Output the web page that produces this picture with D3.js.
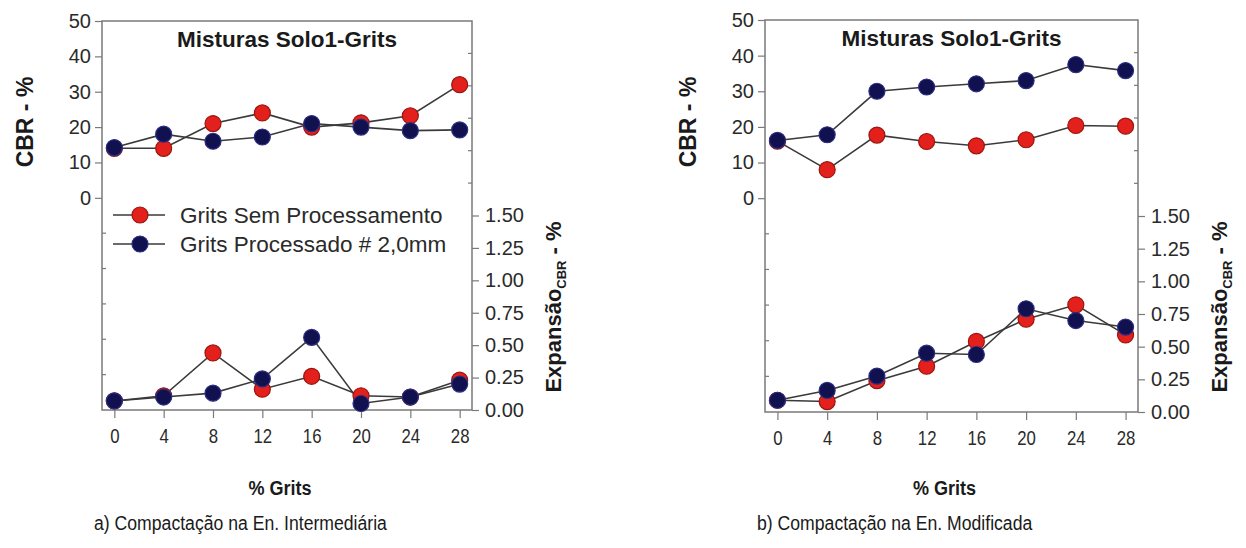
<!DOCTYPE html>
<html>
<head>
<meta charset="utf-8">
<script src="https://cdn.jsdelivr.net/npm/d3@7"></script>
<style>
  html, body { margin: 0; padding: 0; background: #fff; }
  svg { display: block; font-family: "Liberation Sans", Arial, sans-serif; }
</style>
</head>
<body>
<svg id="chart" width="1246" height="548"></svg>
<script>
// ---- data ----
const grits = [0, 4, 8, 12, 16, 20, 24, 28];
const xTickLabels = ["0", "4", "8", "12", "16", "20", "24", "28"];
const cbrTicks = [0, 10, 20, 30, 40, 50];
const expTicks = [0, 0.25, 0.5, 0.75, 1.0, 1.25, 1.5];
const seriesNames = ["Grits Sem Processamento", "Grits Processado # 2,0mm"];

// panel a) Intermediária
const cbrSemA = [14, 14, 21, 24, 20, 21.2, 23.2, 32];
const cbrProcA = [14.2, 18, 16, 17.2, 21, 20, 19, 19.2];
const expSemA = [0.07, 0.11, 0.44, 0.16, 0.26, 0.11, 0.10, 0.23];
const expProcA = [0.07, 0.10, 0.13, 0.24, 0.56, 0.05, 0.10, 0.20];
// panel b) Modificada
const cbrSemB = [16, 8, 17.7, 15.9, 14.7, 16.4, 20.4, 20.2];
const cbrProcB = [16.2, 17.8, 30, 31.2, 32.1, 33, 37.5, 35.8];
const expSemB = [0.09, 0.08, 0.24, 0.35, 0.54, 0.71, 0.82, 0.59];
const expProcB = [0.09, 0.165, 0.275, 0.45, 0.44, 0.79, 0.70, 0.65];

const captions = ["a) Compactação na En. Intermediária", "b) Compactação na En. Modificada"];
const titleText = "Misturas Solo1-Grits";

const svg = d3.select("#chart");
const RED = "#e3201b", RED_STROKE = "#9a1510";
const BLUE = "#10114e", BLUE_STROKE = "#2b2d80";
const LINE = "#3a3a3a", AXIS = "#7a7a7a", TXT = "#2a2a2a";

function panel(cfg) {
  const g = svg.append("g");
  const x = d3.scaleLinear().domain([-1, 29]).range([cfg.left, cfg.right]);
  const yC = d3.scaleLinear().domain([-60, 50]).range([cfg.bottom, cfg.top]);
  const yE = d3.scaleLinear().domain([0, 3]).range([cfg.bottom, cfg.top]);

  // frame
  g.append("rect").attr("x", cfg.left).attr("y", cfg.top)
    .attr("width", cfg.right - cfg.left).attr("height", cfg.bottom - cfg.top)
    .attr("fill", "none").attr("stroke", AXIS).attr("stroke-width", 1.5);

  // left axis (labeled part)
  const la = g.append("g").attr("transform", `translate(${cfg.left},0)`)
    .call(d3.axisLeft(yC).tickValues(cbrTicks).tickSize(7).tickPadding(4).tickFormat(d3.format("d")));
  la.select(".domain").remove();
  la.selectAll("line").attr("stroke", AXIS).attr("stroke-width", 1.2);
  la.selectAll("text").attr("font-size", 20).attr("fill", TXT).attr("font-family", "Liberation Sans, Arial, sans-serif");
  // left minor (unlabeled) inside ticks
  g.append("g").selectAll("line").data([-10, -20, -30, -40, -50]).join("line")
    .attr("x1", cfg.left).attr("x2", cfg.left + 4)
    .attr("y1", d => yC(d)).attr("y2", d => yC(d))
    .attr("stroke", AXIS).attr("stroke-width", 1.2);

  // right axis (labeled part)
  const ra = g.append("g").attr("transform", `translate(${cfg.right},0)`)
    .call(d3.axisRight(yE).tickValues(expTicks).tickSize(7).tickPadding(6).tickFormat(d3.format(".2f")));
  ra.select(".domain").remove();
  ra.selectAll("line").attr("stroke", AXIS).attr("stroke-width", 1.2);
  ra.selectAll("text").attr("font-size", 20).attr("fill", TXT).attr("font-family", "Liberation Sans, Arial, sans-serif");
  g.append("g").selectAll("line").data([1.75, 2.0, 2.25, 2.5, 2.75]).join("line")
    .attr("x1", cfg.right - 4).attr("x2", cfg.right)
    .attr("y1", d => yE(d)).attr("y2", d => yE(d))
    .attr("stroke", AXIS).attr("stroke-width", 1.2);

  // bottom axis
  const ba = g.append("g").attr("transform", `translate(0,${cfg.bottom})`)
    .call(d3.axisBottom(x).tickValues(grits).tickSize(8).tickPadding(11).tickFormat((d, i) => xTickLabels[i]));
  ba.select(".domain").remove();
  ba.selectAll("line").attr("stroke", AXIS).attr("stroke-width", 1.2);
  ba.selectAll("text").attr("font-size", 20).attr("fill", TXT)
    .attr("font-family", "Liberation Sans, Arial, sans-serif")
    .attr("transform", "scale(0.84,1)");

  // title
  g.append("text").attr("x", (cfg.left + cfg.right) / 2).attr("y", cfg.top + 26)
    .attr("text-anchor", "middle").attr("font-weight", "bold").attr("font-size", 22.5)
    .attr("fill", "#1a1a1a").text(titleText);

  // axis titles
  g.append("text").attr("transform", `translate(${cfg.left - 69},${122}) rotate(-90)`)
    .attr("text-anchor", "middle").attr("font-weight", "bold").attr("font-size", 23)
    .attr("fill", "#1a1a1a").text("CBR - %");
  const rt = g.append("text").attr("transform", `translate(${cfg.right + 89},${307}) rotate(-90)`)
    .attr("text-anchor", "middle").attr("font-weight", "bold").attr("font-size", 22)
    .attr("fill", "#1a1a1a");
  rt.append("tspan").text("Expansão");
  rt.append("tspan").attr("font-size", 13).attr("dy", 5).text("CBR");
  rt.append("tspan").attr("dy", -5).text(" - %");

  // x axis title
  g.append("text").attr("transform", `translate(${(cfg.left + cfg.right) / 2 - 7},${495}) scale(0.86,1)`)
    .attr("text-anchor", "middle").attr("font-weight", "bold").attr("font-size", 21)
    .attr("fill", "#1a1a1a").text("% Grits");
  // caption
  g.append("text").attr("transform", `translate(${cfg.left - 8},${530}) scale(0.84,1)`)
    .attr("text-anchor", "start").attr("font-size", 21)
    .attr("fill", "#1a1a1a").text(cfg.caption);

  // series
  const series = [
    { v: cfg.cbrSem, y: yC, fill: RED, stroke: RED_STROKE },
    { v: cfg.expSem, y: yE, fill: RED, stroke: RED_STROKE },
    { v: cfg.cbrProc, y: yC, fill: BLUE, stroke: BLUE_STROKE },
    { v: cfg.expProc, y: yE, fill: BLUE, stroke: BLUE_STROKE }
  ];
  series.forEach(s => {
    const line = d3.line().x((d, i) => x(grits[i])).y(d => s.y(d));
    g.append("path").datum(s.v).attr("d", line).attr("fill", "none")
      .attr("stroke", LINE).attr("stroke-width", 1.6);
  });
  series.forEach(s => {
    g.append("g").selectAll("circle").data(s.v).join("circle")
      .attr("cx", (d, i) => x(grits[i])).attr("cy", d => s.y(d)).attr("r", 8)
      .attr("fill", s.fill).attr("stroke", s.stroke).attr("stroke-width", 1.2);
  });

  if (cfg.legend) {
    const lg = g.append("g");
    const rows = [{ name: seriesNames[0], fill: RED, stroke: RED_STROKE }, { name: seriesNames[1], fill: BLUE, stroke: BLUE_STROKE }];
    rows.forEach((r, i) => {
      const yy = 215 + i * 29;
      lg.append("line").attr("x1", cfg.left + 11).attr("x2", cfg.left + 63).attr("y1", yy).attr("y2", yy)
        .attr("stroke", LINE).attr("stroke-width", 1.6);
      lg.append("circle").attr("cx", cfg.left + 38).attr("cy", yy).attr("r", 8)
        .attr("fill", r.fill).attr("stroke", r.stroke).attr("stroke-width", 1.2);
      lg.append("text").attr("x", cfg.left + 78).attr("y", yy + 8).attr("font-size", 22.5)
        .attr("fill", TXT).text(r.name);
    });
  }
}

panel({ left: 102, right: 472, top: 21, bottom: 410, caption: captions[0],
  cbrSem: cbrSemA, cbrProc: cbrProcA, expSem: expSemA, expProc: expProcA, legend: true });
panel({ left: 765, right: 1138, top: 20, bottom: 412, caption: captions[1],
  cbrSem: cbrSemB, cbrProc: cbrProcB, expSem: expSemB, expProc: expProcB, legend: false });
</script>
</body>
</html>
